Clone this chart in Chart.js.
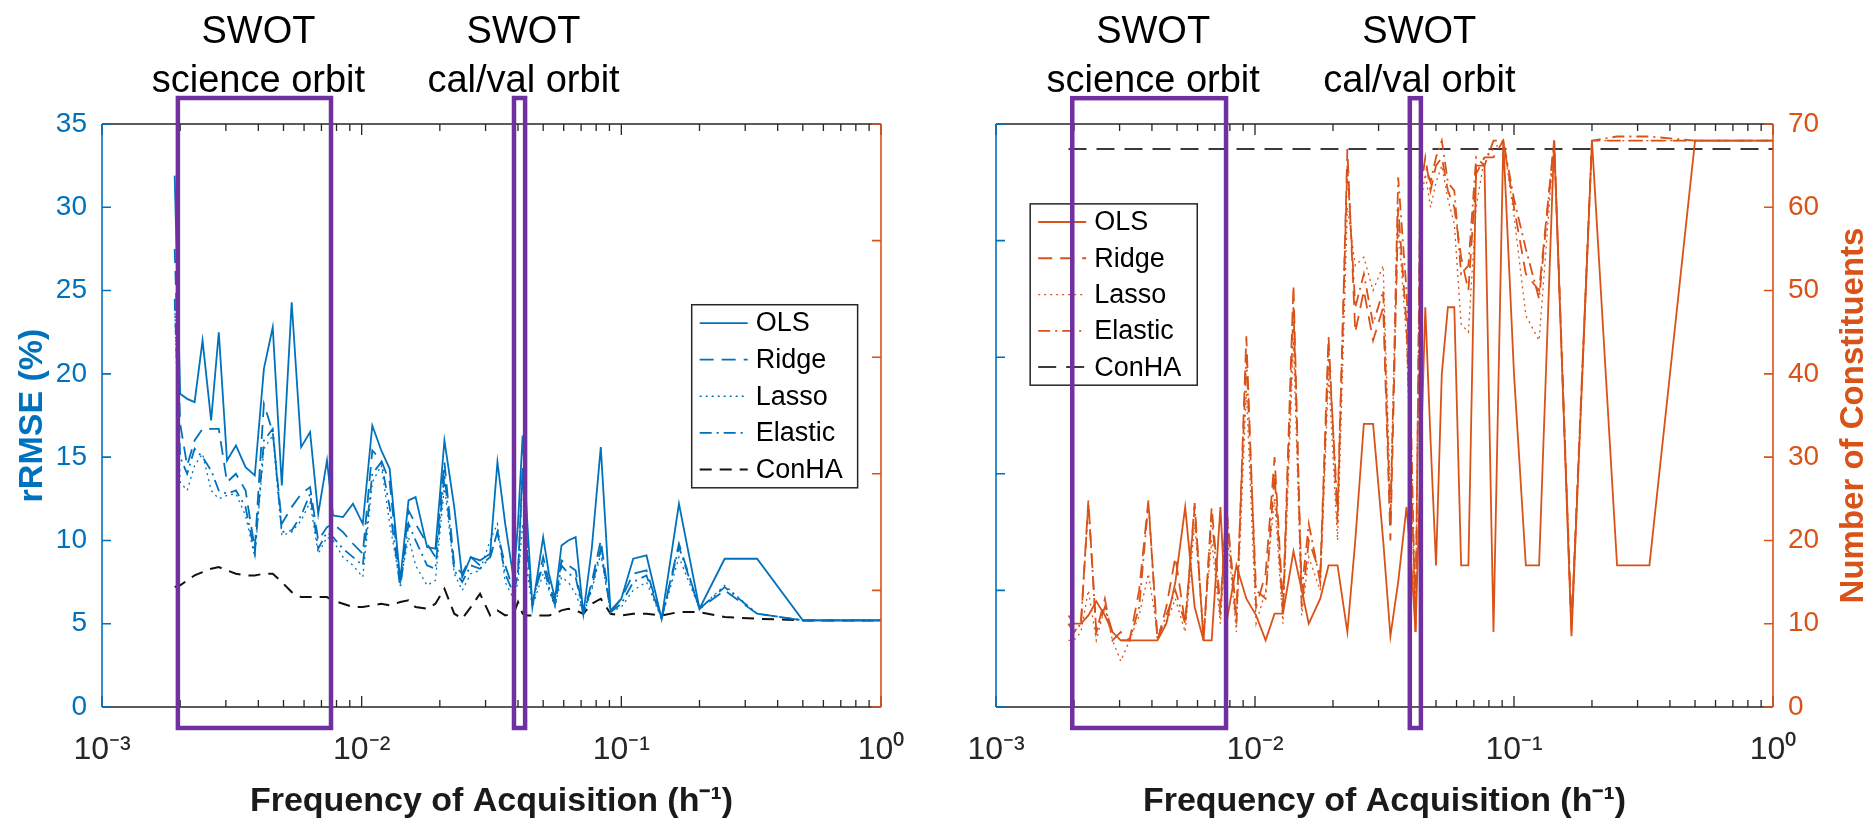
<!DOCTYPE html>
<html>
<head>
<meta charset="utf-8">
<title>rRMSE and number of constituents vs frequency of acquisition</title>
<script src="https://cdn.jsdelivr.net/npm/chart.js@4.4.1/dist/chart.umd.min.js"></script>
<style>
  html, body { margin: 0; padding: 0; background: #ffffff; }
  #wrap { position: relative; width: 1876px; height: 823px; }
  canvas { position: absolute; top: 0; }
</style>
</head>
<body>
<div id="wrap">
  <canvas id="rmseChart" width="938" height="823" style="left:0px"></canvas>
  <canvas id="constChart" width="938" height="823" style="left:938px"></canvas>
</div>
<script>
// =========================================
// DATA
// =========================================

// frequency of acquisition, h^-1
const freq = [
  0.001905, 0.002, 0.002128, 0.002273, 0.002439, 0.002632, 0.002817, 0.00303, 0.003279, 0.003571,
  0.003876, 0.004202, 0.004545, 0.004926, 0.005376, 0.005848, 0.006329, 0.006803, 0.007353, 0.007752,
  0.008475, 0.009259, 0.0101, 0.01099, 0.0119, 0.01282, 0.01408, 0.01515, 0.01613, 0.01786,
  0.01923, 0.02083, 0.02273, 0.02439, 0.02632, 0.02857, 0.03125, 0.03333, 0.03571, 0.03846,
  0.04, 0.04167, 0.04348, 0.04545, 0.04762, 0.05, 0.05263, 0.05556, 0.05882, 0.0625,
  0.06667, 0.07143, 0.07692, 0.08333, 0.09091, 0.1, 0.1111, 0.125, 0.1429, 0.1667,
  0.2, 0.25, 0.3333, 0.5, 1
];

const seriesLabels = ["OLS", "Ridge", "Lasso", "Elastic", "ConHA"];

// left panel: rRMSE (%)
const rmseOls = [
  31.9, 18.8, 18.5, 18.3, 22.0, 17.2, 22.5, 14.8, 15.7, 14.4,
  13.9, 20.3, 22.8, 13.3, 24.3, 15.6, 16.5, 11.6, 14.8, 11.5,
  11.4, 12.2, 11.0, 16.9, 15.4, 14.3, 7.6, 12.4, 12.6, 9.6,
  9.5, 16.0, 12.0, 7.8, 9.0, 8.8, 9.2, 14.7, 11.0, 7.7,
  11.0, 16.3, 11.0, 6.0, 8.0, 10.2, 8.0, 6.5, 9.7, 10.0,
  10.2, 5.6, 9.5, 15.6, 5.7, 6.5, 8.9, 9.1, 5.3, 12.2,
  5.9, 8.9, 8.9, 5.2, 5.2
];
const rmseRidge = [
  27.5, 17.0, 14.5, 16.0, 16.7, 16.7, 16.7, 13.5, 14.0, 13.0,
  9.5, 18.2, 16.5, 11.0, 12.0, 12.8, 13.2, 10.0, 10.8, 11.0,
  10.5, 9.8, 9.2, 15.4, 14.8, 13.5, 7.3, 11.8, 11.0, 9.8,
  9.0, 14.7, 8.5, 8.0, 9.0, 8.5, 9.0, 10.5, 8.5, 7.0,
  8.0, 14.5, 9.5, 6.2, 7.5, 9.0, 7.5, 6.2, 8.8, 8.5,
  8.2, 5.6, 7.5, 10.0, 5.8, 6.5, 8.0, 8.2, 5.3, 9.8,
  5.9, 7.0, 5.6, 5.2, 5.2
];
const rmseLasso = [
  24.0, 13.5, 13.0, 14.5, 15.2, 13.0, 12.5, 12.7, 12.8, 11.5,
  9.0, 15.5, 16.3, 10.3, 10.5, 11.2, 12.3, 9.2, 10.2, 10.0,
  9.0, 8.5, 7.8, 13.5, 14.5, 11.0, 7.4, 10.2, 8.5, 7.3,
  7.6, 13.3, 8.0, 7.0, 8.0, 8.2, 10.0, 11.0, 7.5, 6.5,
  7.5, 11.0, 8.0, 6.0, 7.0, 8.0, 7.0, 6.0, 7.8, 7.5,
  6.8, 5.6, 7.0, 9.2, 5.7, 6.0, 7.0, 7.5, 5.3, 9.0,
  5.9, 7.3, 5.6, 5.2, 5.2
];
const rmseElastic = [
  24.5, 15.0, 14.0, 15.5, 15.0, 14.2, 13.0, 12.8, 13.0, 12.0,
  9.2, 16.0, 16.7, 10.5, 10.6, 11.5, 12.8, 9.5, 10.5, 10.2,
  9.5, 9.0, 8.5, 14.0, 14.7, 12.0, 7.2, 11.0, 10.0, 8.5,
  8.3, 14.0, 8.2, 7.5, 8.5, 8.3, 9.0, 10.5, 8.0, 6.8,
  8.0, 14.0, 9.0, 6.3, 7.5, 8.5, 7.2, 6.1, 8.5, 8.0,
  7.8, 5.6, 7.2, 9.5, 5.7, 6.2, 7.5, 7.9, 5.3, 9.6,
  5.9, 7.2, 5.6, 5.2, 5.2
];
const rmseConha = [
  7.2, 7.3, 7.6, 7.9, 8.1, 8.3, 8.4, 8.2, 8.0, 7.9,
  7.9, 8.0, 8.0, 7.5, 6.9, 6.6, 6.6, 6.6, 6.6, 6.4,
  6.2, 6.0, 6.0, 6.1, 6.2, 6.1, 6.3, 6.4, 6.0, 5.9,
  6.2, 7.1, 5.6, 5.3, 6.0, 6.8, 5.5, 5.8, 5.5, 5.6,
  6.3, 5.6, 5.5, 5.5, 5.5, 5.5, 5.5, 5.6, 5.8, 5.9,
  5.8, 5.6, 6.2, 6.5, 5.6, 5.5, 5.6, 5.6, 5.5, 5.7,
  5.7, 5.4, 5.3, 5.2, 5.2
];

// right panel: number of constituents
const nOls = [
  11, 10, 10, 11, 12.7, 11, 9, 8, 8, 8,
  8, 8, 10, 15, 24, 12, 8, 8, 24, 10,
  17, 13, 11, 8, 11.2, 11.2, 18.7, 14, 10, 13,
  17, 17, 9, 20, 34, 34, 20, 8.5, 15, 24,
  18, 9, 28, 48, 32, 17, 40, 48, 48, 17,
  17, 65, 65, 9, 68, 40, 17, 17, 68, 8.5,
  68, 17, 17, 68, 68
];
const nRidge = [
  10, 9, 10, 24.8, 9, 13, 8, 9, 8, 14,
  24.8, 8, 12, 18, 10, 24.5, 8, 24, 12, 24,
  10, 44.5, 12, 16, 30, 12, 50.7, 12, 20, 16,
  44.5, 22, 67, 45, 50, 44, 48, 20, 60, 46,
  30, 10, 62, 66, 62, 65, 66, 62, 60, 54,
  50, 64, 66, 66, 68, 60, 52, 50, 68, 10,
  68, 68, 68, 68, 68
];
const nLasso = [
  8, 8, 9, 14, 8, 12, 8, 5.5, 8, 11,
  16, 9, 10, 13, 9, 22, 9, 20, 10, 22,
  9, 38, 10, 14, 25, 10, 44, 11, 18, 14,
  40, 20, 60, 53, 54, 50, 53, 25, 58, 44,
  28, 9, 60, 64, 60, 63, 65, 61, 58, 46,
  45, 60, 66, 67, 68, 59, 47, 44, 68, 9,
  68, 68, 68, 68, 68
];
const nElastic = [
  10, 9, 10, 24.5, 9, 12, 9, 8, 8, 12,
  24.5, 8, 11, 14, 10, 24, 8, 23, 11, 24,
  11, 42, 14, 13, 28, 11, 48, 14, 22, 15,
  43, 24, 65, 48, 52, 46, 50, 22, 63.6, 50,
  35, 9, 64, 65, 63, 66, 68, 63, 62, 52,
  53, 66, 65, 68, 68, 61, 55, 49, 68, 9,
  68, 68.5, 68.5, 68, 68
];
const nConha = [
  67, 67, 67, 67, 67, 67, 67, 67, 67, 67,
  67, 67, 67, 67, 67, 67, 67, 67, 67, 67,
  67, 67, 67, 67, 67, 67, 67, 67, 67, 67,
  67, 67, 67, 67, 67, 67, 67, 67, 67, 67,
  67, 67, 67, 67, 67, 67, 67, 67, 67, 67,
  67, 67, 67, 67, 67, 67, 67, 67, 67, 67,
  67, 67, 67, 67, 67
];

// x axis tick labels
const xTickValues = [0.001, 0.01, 0.1, 1];
const xTickLabels = ["10\u207B\u00B3", "10\u207B\u00B2", "10\u207B\u00B9", "10\u2070"];

// SWOT orbit bands (frequency ranges drawn as boxes)
const rmseBands = [
  { range: [0.00196, 0.00762], text: ["SWOT", "science orbit"] },
  { range: [0.0386, 0.0426], text: ["SWOT", "cal/val orbit"] }
];
const constBands = [
  { range: [0.00197, 0.00773], text: ["SWOT", "science orbit"] },
  { range: [0.0396, 0.0437], text: ["SWOT", "cal/val orbit"] }
];


// =========================================
// STYLE
// =========================================

const blue = "#0072BD";
const orange = "#D95319";
const dark = "#262626";
const purple = "#7030A0";
const FONT = "'Liberation Sans', Arial, sans-serif";

Chart.defaults.font.family = FONT;
Chart.defaults.color = dark;

const lineStyles = [
  { dash: [], width: 1.8 },
  { dash: [14, 8], width: 1.8 },
  { dash: [2, 4], width: 1.3 },
  { dash: [12, 5, 2, 5], width: 1.8 }
];

function pts(values) {
  return freq.map((f, i) => ({ x: f, y: values[i] }));
}

function makeDatasets(seriesList, color, axisId, conhaColor, conhaDash) {
  const ds = seriesList.slice(0, 4).map((vals, i) => ({
    label: seriesLabels[i],
    data: pts(vals),
    borderColor: color,
    borderWidth: lineStyles[i].width,
    borderDash: lineStyles[i].dash,
    pointRadius: 0,
    tension: 0,
    yAxisID: axisId
  }));
  ds.push({
    label: seriesLabels[4],
    data: pts(seriesList[4]),
    borderColor: conhaColor,
    borderWidth: 2,
    borderDash: conhaDash,
    pointRadius: 0,
    tension: 0,
    yAxisID: axisId
  });
  return ds;
}


// =========================================
// PLUGIN: matlab-like frame, legend, bands
// =========================================

const figurePlugin = {
  id: "figureDecor",
  afterDraw(chart, args, o) {
    const { ctx, chartArea: a, scales } = chart;
    const xs = scales.x;
    ctx.save();

    // box top / bottom
    ctx.setLineDash([]);
    ctx.lineWidth = 1.6;
    ctx.strokeStyle = dark;
    ctx.beginPath();
    ctx.moveTo(a.left, a.top); ctx.lineTo(a.right, a.top);
    ctx.moveTo(a.left, a.bottom); ctx.lineTo(a.right, a.bottom);
    ctx.stroke();

    // x ticks (inward, top and bottom)
    ctx.lineWidth = 1.3;
    ctx.beginPath();
    for (let d = xs.min; d <= xs.max * 1.0001; d *= 10) {
      for (let m = 1; m < 10; m++) {
        const v = d * m;
        if (v > xs.max * 1.0001) break;
        const px = xs.getPixelForValue(v);
        const len = m === 1 ? 11 : 7;
        ctx.moveTo(px, a.bottom); ctx.lineTo(px, a.bottom - len);
        ctx.moveTo(px, a.top); ctx.lineTo(px, a.top + len);
      }
    }
    ctx.stroke();

    // left / right axes in their colours with inward ticks
    [[o.leftAxis, o.leftColor, a.left, 1], [o.rightAxis, o.rightColor, a.right, -1]].forEach(([id, col, x, dir]) => {
      const s = scales[id];
      ctx.strokeStyle = col;
      ctx.lineWidth = 1.6;
      ctx.beginPath();
      ctx.moveTo(x, a.top); ctx.lineTo(x, a.bottom);
      s.ticks.forEach(t => {
        const py = s.getPixelForValue(t.value);
        ctx.moveTo(x, py); ctx.lineTo(x + dir * 9, py);
      });
      ctx.stroke();
    });

    // legend
    const lg = o.legend;
    const x0 = a.left + lg.box[0] * (a.right - a.left);
    const x1 = a.left + lg.box[2] * (a.right - a.left);
    const y0 = a.top + lg.box[1] * (a.bottom - a.top);
    const y1 = a.top + lg.box[3] * (a.bottom - a.top);
    ctx.fillStyle = "#ffffff";
    ctx.fillRect(x0, y0, x1 - x0, y1 - y0);
    ctx.strokeStyle = dark;
    ctx.lineWidth = 1.5;
    ctx.strokeRect(x0, y0, x1 - x0, y1 - y0);
    const dsets = chart.data.datasets;
    const rowH = (y1 - y0) / dsets.length;
    ctx.font = "27px " + FONT;
    ctx.textBaseline = "middle";
    ctx.textAlign = "left";
    dsets.forEach((ds, i) => {
      const cy = y0 + rowH * (i + 0.5);
      ctx.strokeStyle = ds.borderColor;
      ctx.lineWidth = ds.borderWidth;
      ctx.setLineDash(ds.borderDash);
      ctx.beginPath();
      ctx.moveTo(x0 + 8, cy); ctx.lineTo(x0 + 56, cy);
      ctx.stroke();
      ctx.setLineDash([]);
      ctx.fillStyle = "#000000";
      ctx.fillText(ds.label, x0 + 64, cy + 1);
    });

    // SWOT orbit boxes + labels
    const ys = scales[o.bandAxis];
    o.bands.forEach(b => {
      const xl = xs.getPixelForValue(b.range[0]);
      const xr = xs.getPixelForValue(b.range[1]);
      const yt = ys.getPixelForValue(o.bandY[1]);
      const yb = ys.getPixelForValue(o.bandY[0]);
      ctx.strokeStyle = purple;
      ctx.lineWidth = 4.5;
      ctx.setLineDash([]);
      ctx.strokeRect(xl, yt, xr - xl, yb - yt);
      const cx = (xl + xr) / 2 + 4;
      ctx.fillStyle = "#000000";
      ctx.font = "38px " + FONT;
      ctx.textAlign = "center";
      ctx.textBaseline = "alphabetic";
      ctx.fillText(b.text[0], cx, yt - 55);
      ctx.fillText(b.text[1], cx, yt - 6);
    });

    // right-hand y title, reading bottom to top
    if (o.rightTitle) {
      ctx.translate(a.right + 81, (a.top + a.bottom) / 2);
      ctx.rotate(-Math.PI / 2);
      ctx.font = "bold 33px " + FONT;
      ctx.fillStyle = o.rightColor;
      ctx.textAlign = "center";
      ctx.textBaseline = "middle";
      ctx.fillText(o.rightTitle, 0, 0);
    }
    ctx.restore();
  }
};


// =========================================
// SHARED AXIS CONFIG
// =========================================

function xAxis() {
  return {
    type: "logarithmic",
    min: 0.001,
    max: 1,
    grid: { display: false, drawTicks: false },
    border: { display: false },
    afterBuildTicks: (s) => { s.ticks = xTickValues.map(v => ({ value: v })); },
    afterFit: (s) => { s.height = 116; },
    ticks: {
      autoSkip: false,
      maxRotation: 0,
      minRotation: 0,
      padding: 24,
      color: dark,
      font: { size: 32 },
      callback: (v, i) => xTickLabels[i]
    },
    title: {
      display: true,
      text: "Frequency of Acquisition (h\u207B\u00B9)",
      color: "#1a1a1a",
      font: { size: 34, weight: "bold" },
      padding: { top: 0, bottom: 1 }
    }
  };
}

function yAxis(pos, min, max, step, color, width, showLabels) {
  return {
    type: "linear",
    position: pos,
    min: min,
    max: max,
    grid: { display: false, drawTicks: false },
    border: { display: false },
    afterFit: (s) => { s.width = width; },
    ticks: {
      stepSize: step,
      padding: 15,
      color: color,
      font: { size: 28 },
      callback: (v) => (showLabels ? v : "")
    }
  };
}


// =========================================
// rRMSE CHART
// =========================================

const rmseY = yAxis("left", 0, 35, 5, blue, 102, true);
rmseY.title = {
  display: true,
  text: "rRMSE (%)",
  color: blue,
  font: { size: 34, weight: "bold" },
  padding: { top: 12, bottom: 0 }
};

new Chart(document.getElementById("rmseChart"), {
  type: "line",
  data: {
    datasets: makeDatasets(
      [rmseOls, rmseRidge, rmseLasso, rmseElastic, rmseConha],
      blue, "y", "#111111", [12, 8]
    )
  },
  options: {
    responsive: false,
    animation: false,
    layout: { padding: { top: 124, left: 0, right: 0, bottom: 0 } },
    plugins: {
      legend: { display: false },
      tooltip: { enabled: false },
      figureDecor: {
        leftAxis: "y", leftColor: blue,
        rightAxis: "y2", rightColor: orange,
        legend: { box: [0.757, 0.31, 0.97, 0.624] },
        bandAxis: "y", bandY: [-1.26, 36.56],
        bands: rmseBands
      }
    },
    scales: {
      x: xAxis(),
      y: rmseY,
      y2: yAxis("right", 0, 1, 0.2, orange, 57, false)
    }
  },
  plugins: [figurePlugin]
});


// =========================================
// NUMBER OF CONSTITUENTS CHART
// =========================================

new Chart(document.getElementById("constChart"), {
  type: "line",
  data: {
    datasets: makeDatasets(
      [nOls, nRidge, nLasso, nElastic, nConha],
      orange, "yR", "#3a3a3a", [18, 10]
    )
  },
  options: {
    responsive: false,
    animation: false,
    layout: { padding: { top: 124, left: 0, right: 0, bottom: 0 } },
    plugins: {
      legend: { display: false },
      tooltip: { enabled: false },
      figureDecor: {
        leftAxis: "yL", leftColor: blue,
        rightAxis: "yR", rightColor: orange,
        legend: { box: [0.044, 0.137, 0.259, 0.448] },
        bandAxis: "yR", bandY: [-2.52, 73.1],
        bands: constBands,
        rightTitle: "Number of Constituents"
      }
    },
    scales: {
      x: xAxis(),
      yL: yAxis("left", 0, 1, 0.2, blue, 58, false),
      yR: yAxis("right", 0, 70, 10, orange, 103, true)
    }
  },
  plugins: [figurePlugin]
});
</script>
</body>
</html>
